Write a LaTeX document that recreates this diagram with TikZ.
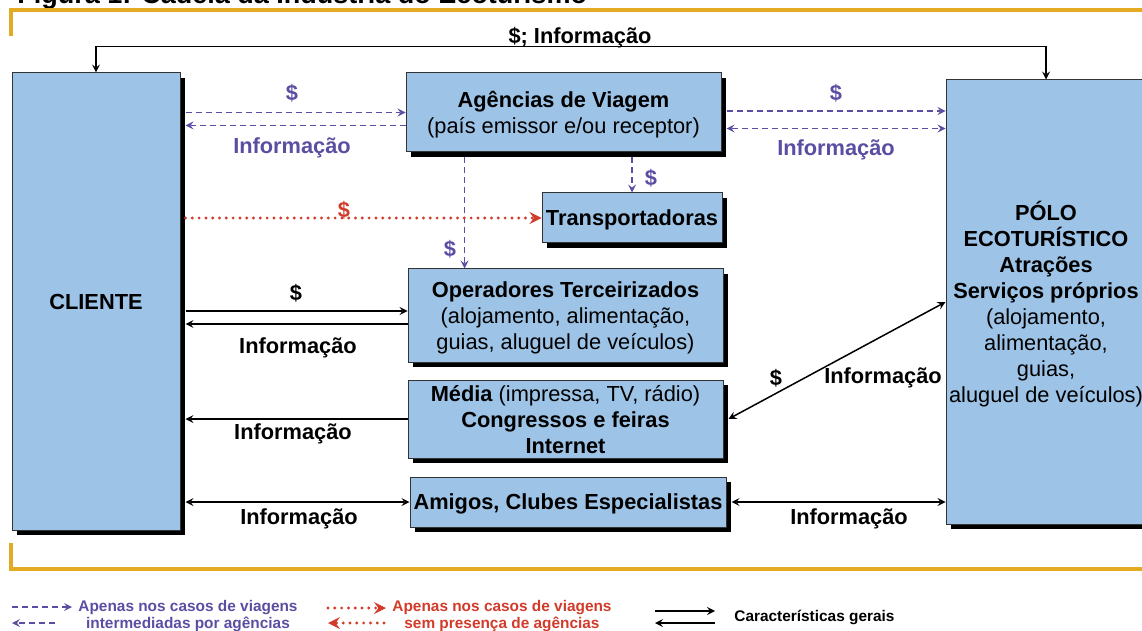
\documentclass[tikz,border=0pt]{standalone}
\usepackage{fontspec}
\setmainfont{Liberation Sans}
\usetikzlibrary{arrows,shadows,positioning}

\definecolor{boxblue}{RGB}{157,195,230}
\definecolor{agpurple}{RGB}{90,78,162}
\definecolor{dotred}{RGB}{210,58,42}
\definecolor{frameorange}{RGB}{227,171,36}

\begin{document}
\begin{tikzpicture}[x=0.5pt,y=-0.5pt,>=stealth,line width=0.75pt,
    every node/.style={font=\fontsize{10.9}{13}\selectfont},
    block/.style={draw=black!80,line width=0.5pt,fill=boxblue,align=center,inner sep=0pt,text depth=0pt,
      drop shadow={shadow xshift=2.5pt,shadow yshift=-2.5pt,fill=black,opacity=1}},
    tag/.style={font=\fontsize{10.9}{13}\selectfont\bfseries,text depth=0pt},
    via/.style={agpurple,dash pattern=on 3pt off 2pt},
    direct/.style={dotred,line width=1.6pt,line cap=round,dash pattern=on 0pt off 3.4pt},
    legend/.style={font=\fontsize{7.7}{8.5}\selectfont\bfseries,align=center}]

\clip (0,0) rectangle (1142,631);

\node [anchor=base west,font=\fontsize{13.5}{16}\selectfont\bfseries] (title) at (10,4)
    {Figura 1: Cadeia da Indústria do Ecoturismo};

% frame
\draw [frameorange,line width=2pt] (11,36) |- (1150,10);
\draw [frameorange,line width=2pt] (11,543) |- (1150,569);

% boxes
\node [block,minimum width=84pt,minimum height=228.5pt] (cli) at (96,301.5) {\bfseries CLIENTE};
\node [block,minimum width=157.5pt,minimum height=39.5pt] (agen) at (563.5,112.5)
    {\textbf{Agências de Viagem}\\(país emissor e/ou receptor)};
\node [block,minimum width=90pt,minimum height=25pt] (trans) at (632,218) {\bfseries Transportadoras};
\node [block,minimum width=157.5pt,minimum height=46.5pt] (oper) at (565.5,315.5)
    {\textbf{Operadores Terceirizados}\\(alojamento, alimentação,\\guias, aluguel de veículos)};
\node [block,minimum width=157.5pt,minimum height=39pt] (media) at (565.5,419)
    {\textbf{Média} (impressa, TV, rádio)\\\textbf{Congressos e feiras}\\\textbf{Internet}};
\node [block,minimum width=158pt,minimum height=25pt] (amigos) at (568,502)
    {\bfseries Amigos, Clubes Especialistas};
\node [block,minimum width=100pt,minimum height=222pt] (polo) at (1046,302)
    {\textbf{PÓLO}\\\textbf{ECOTURÍSTICO}\\\textbf{Atrações}\\\textbf{Serviços próprios}\\(alojamento,\\alimentação,\\guias,\\aluguel de veículos)};

\coordinate (cliR) at ([xshift=2.5pt]cli.east);

% general flows
\draw [<->] (cli.north) -- ++(0,-26) -| (polo.north);
\node [tag] (top-lbl) at (580,35) {\$; Informação};

% agency branch
\draw [via,->] (agen.west -| cliR) -- (agen.west);
\draw [via,->] ([yshift=-6.5pt]agen.west) -- ([yshift=-6.5pt]agen.west -| cliR);
\draw [via,->] ([xshift=2.5pt,yshift=0.75pt]agen.east) -- ([yshift=0.75pt]agen.east -| polo.west);
\draw [via,<->] ([xshift=2.5pt,yshift=-8pt]agen.east) -- ([yshift=-8pt]agen.east -| polo.west);
\draw [via,->] ([yshift=-2.5pt]agen.south -| trans.north) -- (trans.north);
\draw [via,->] ([yshift=-2.5pt,xshift=28.5pt]agen.south -| oper.west) -- ([xshift=28.5pt]oper.north west);

\node [tag,agpurple] (ag-pay) at (292,92) {\$};
\node [tag,agpurple] (ag-info) at (292,146) {Informação};
\node [tag,agpurple] (pol-pay) at (836,92) {\$};
\node [tag,agpurple] (pol-info) at (836,148) {Informação};
\node [tag,agpurple] (tr-pay) at (651,177) {\$};
\node [tag,agpurple] (op-pay) at (450,248) {\$};

% without agency
\draw [direct,->] (trans.west -| cliR) -- (trans.west);
\node [tag,dotred] (cli-pay) at (344,209) {\$};

% direct flows
\draw [->] ([yshift=2.25pt]oper.west -| cliR) -- ([yshift=2.25pt]oper.west);
\draw [->] ([yshift=-4.25pt]oper.west) -- ([yshift=-4.25pt]oper.west -| cliR);
\draw [->] (media.west) -- (media.west -| cliR);
\draw [<->] (amigos.west -| cliR) -- (amigos.west);
\draw [<->] ([xshift=2.5pt]media.east) -- (polo.west);
\draw [<->] ([xshift=2.5pt]amigos.east) -- (amigos.east -| polo.west);

\node [tag] (op-cpay) at (296,292) {\$};
\node [tag] (op-info) at (298,346) {Informação};
\node [tag] (md-info) at (293,432) {Informação};
\node [tag] (am-info) at (299,517) {Informação};
\node [tag] (md-pay) at (776,377) {\$};
\node [tag] (md-pinfo) at (883,376) {Informação};
\node [tag] (am-pinfo) at (849,517) {Informação};

% legend
\draw [via,->] (12,607) -- (72,607);
\draw [via,->] (55,623) -- (12,623);
\node [legend,agpurple] (leg-via) at (188,616) {Apenas nos casos de viagens\\intermediadas por agências};
\draw [direct,->] (328,608) -- (386,608);
\draw [direct,->] (384,623) -- (328,623);
\node [legend,dotred] (leg-dir) at (502,616) {Apenas nos casos de viagens\\sem presença de agências};
\draw [->] (655,611) -- (715,611);
\draw [->] (715,623) -- (655,623);
\node [legend,anchor=west] (leg-gen) at (727,617) {Características gerais};

\end{tikzpicture}
\end{document}
